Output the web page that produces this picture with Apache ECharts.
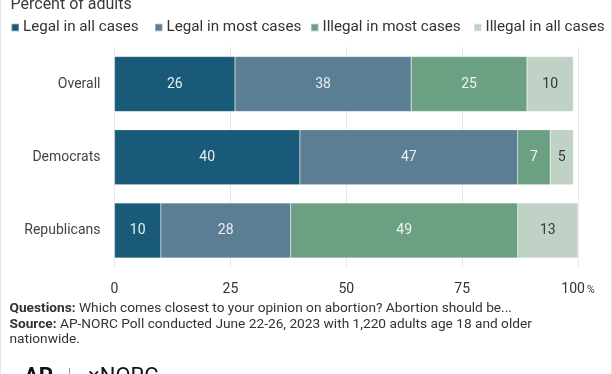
<!DOCTYPE html>
<html><head><meta charset="utf-8">
<script src="https://cdn.jsdelivr.net/npm/echarts@6/dist/echarts.min.js"></script>
<style>html,body{margin:0;padding:0;background:#fff}#c{width:612px;height:374px}</style>
</head><body><div id="c"></div>
<script>
const categories = ['Overall', 'Democrats', 'Republicans'];
const seriesNames = ['Legal in all cases', 'Legal in most cases', 'Illegal in most cases', 'Illegal in all cases'];
const legalAll = [26, 40, 10];
const legalMost = [38, 47, 28];
const illegalMost = [25, 7, 49];
const illegalAll = [10, 5, 13];
const xTicks = [0, 25, 50, 75, 100];

const colors = ['#195a78', '#5b7e94', '#6ca083', '#bfd2c5'];
const labelColors = ['#e8eef2', '#e8eef2', '#eef4f0', '#3a3a3a'];
const values = [legalAll, legalMost, illegalMost, illegalAll];
const legendLeft = [10.5, 154, 310, 473];
const F = 'Roboto, "Liberation Sans", sans-serif';

const chart = echarts.init(document.getElementById('c'), null, {renderer: 'canvas'});
chart.setOption({
  animation: false,
  color: colors,
  textStyle: {fontFamily: F},
  title: {
    text: 'Percent of adults', left: 5.5, top: -8,
    textStyle: {fontFamily: F, fontSize: 16, fontWeight: 'normal', color: '#3a3a3a'}
  },
  legend: seriesNames.map((n, i) => ({
    left: legendLeft[i], top: 20, padding: 0, itemWidth: 7.5, itemHeight: 7.5,
    icon: 'rect',
    textStyle: {fontFamily: F, fontSize: 15.2, color: '#333', padding: [0, 0, 0, -1]},
    data: [n]
  })),
  grid: {left: 114.5, right: 34, top: 47.5, bottom: 107, containLabel: false},
  xAxis: {
    type: 'value', min: xTicks[0], max: xTicks[xTicks.length - 1], interval: 25,
    axisLine: {show: false}, axisTick: {show: false},
    splitLine: {show: true, lineStyle: {color: '#e8e8e8', width: 1}},
    axisLabel: {
      fontFamily: F, fontSize: 14, color: '#333', margin: 15,
      formatter: v => v === 100 ? '{a|100}{b|%}' : String(v),
      rich: {a: {fontFamily: F, fontSize: 14, color: '#333'}, b: {fontFamily: F, fontSize: 10.5, color: '#333', padding: [3, 0, 0, 2]}}
    }
  },
  yAxis: {
    type: 'category', data: categories, inverse: true,
    axisLine: {show: false}, axisTick: {show: false},
    axisLabel: {fontFamily: F, fontSize: 14, color: '#444', margin: 14}
  },
  series: seriesNames.map((n, i) => ({
    name: n, type: 'bar', stack: 'total', data: values[i], barWidth: 55,
    itemStyle: {color: colors[i], borderColor: 'rgba(255,255,255,0.35)', borderWidth: 0.5},
    label: {show: true, position: 'inside', fontFamily: F, fontSize: 14, color: labelColors[i]}
  })),
  graphic: [
    {type: 'rect', shape: {x: 0.5, y: -2, width: 611, height: 380}, style: {fill: 'none', stroke: '#e4e4e4', lineWidth: 1}, silent: true},
    {type: 'text', left: 9.5, top: 301, style: {
      text: '{b|Questions:} Which comes closest to your opinion on abortion? Abortion should be...\n{b|Source:} AP-NORC Poll conducted June 22-26, 2023 with 1,220 adults age 18 and older\nnationwide.',
      font: '13.7px ' + F, fill: '#333', lineHeight: 15.5,
      rich: {b: {fontWeight: 'bold', fontFamily: F, fontSize: 13.7, fill: '#333'}}
    }},
    {type: 'text', left: 24, top: 366, style: {text: 'AP', font: 'bold 22px ' + F, fill: '#111'}},
    {type: 'line', shape: {x1: 69.5, y1: 368, x2: 69.5, y2: 380}, style: {stroke: '#999', lineWidth: 1}},
    {type: 'text', left: 88, top: 366, style: {text: '\u00d7NORC', font: '22px ' + F, fill: '#111'}}
  ]
});
</script></body></html>
